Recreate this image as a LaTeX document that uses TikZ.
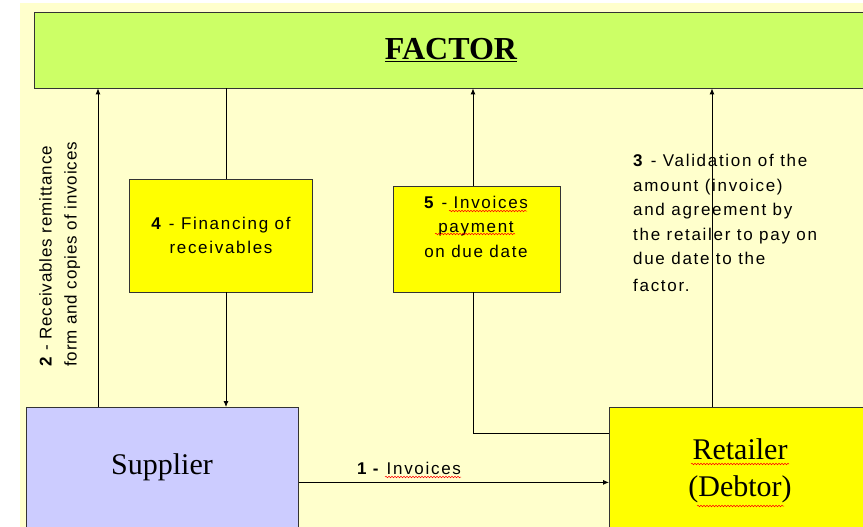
\documentclass[tikz,border=0pt]{standalone}
\usepackage{fontspec}
\setmainfont{Liberation Serif}
\newfontfamily\lab[LetterSpace=10]{Liberation Sans}
\newfontfamily\labnarrow[LetterSpace=5]{Liberation Sans}
\usetikzlibrary{arrows.meta,decorations.pathmorphing}
\definecolor{bgyellow}{RGB}{255,255,204}
\definecolor{factorgreen}{RGB}{204,255,102}
\definecolor{supblue}{RGB}{204,204,255}
\definecolor{boxyellow}{RGB}{255,255,0}
\definecolor{edgegray}{RGB}{51,51,51}
\tikzset{
 box/.style={draw=edgegray, line width=0.8pt, inner sep=0pt},
 lbl/.style={font=\lab\fontsize{17}{24.5}\selectfont, inner sep=0pt, text=black},
 serif/.style={font=\fontsize{30}{37}\selectfont, inner sep=0pt, text=black},
 conn/.style={draw=black, line width=0.8pt},
 arr/.style={conn, -{Latex[length=6pt,width=5pt]}},
 squig/.style={draw=red, line width=0.5pt, decorate, decoration={snake, amplitude=0.8pt, segment length=3pt}},
}
\begin{document}
\begin{tikzpicture}[x=1pt,y=-1pt]
\clip (0,0) rectangle (863,527);
\fill[white] (0,0) rectangle (863,527);
\fill[bgyellow] (20,3) rectangle (863,527);
% boxes
\node[box, fill=factorgreen, minimum width=836pt, minimum height=76pt] (factor) at (452,50) {};
\node[serif, font=\bfseries\fontsize{32}{37}\selectfont] (factortext) at (451,50) {\underline{FACTOR}};
\node[box, fill=supblue, minimum width=272pt, minimum height=140pt, anchor=north west] (supplier) at (26,407) {};
\node[serif] (suptext) at (162,467) {Supplier};
\node[box, fill=boxyellow, minimum width=270pt, minimum height=140pt, anchor=north west] (retailer) at (609,407) {};
\node[serif, align=center] (rettext) at (740,471) {Retailer\\(Debtor)};
\node[box, fill=boxyellow, minimum width=183pt, minimum height=113pt, lbl, align=center] (fin) at (221,235.5) {\textbf{4} - Financing of\\receivables};
\node[box, fill=boxyellow, minimum width=167pt, minimum height=106pt] (pay) at (476.5,239) {};
\node[lbl, align=center] (paytext) at (476,226.5) {\textbf{5} - Invoices\\payment\\ on due date};
% labels
\node[lbl, anchor=north west, align=left] (l3) at (633,154) {\textbf{3} - Validation of the\\amount (invoice)\\and agreement by\\the retailer to pay on\\due date to the\\[2.5pt]factor.};
\node[lbl] (l1) at (409,468) {\textbf{1 -} Invoices};
\node[lbl, font=\labnarrow\fontsize{17}{25}\selectfont, rotate=90, anchor=north west, align=left] (l2) at (39,367) {\textbf{2} - Receivables remittance\\form and copies of invoices};
% spell-check squiggles
\draw[squig] (449,211) -- (527,211);
\draw[squig] (435,234) -- (515,234);
\draw[squig] (385,477) -- (461,477);
\draw[squig] (691,464) -- (789,464);
\draw[squig] (697,506) -- (784,506);
% connectors
\draw[arr] ([xshift=72pt]supplier.north west) -- ([xshift=72pt]supplier.north west |- factor.south);
\draw[conn] ([xshift=5pt]fin.north) -- ([xshift=5pt]fin.north |- factor.south);
\draw[arr] ([xshift=5pt]fin.south) -- ([xshift=5pt]fin.south |- supplier.north);
\draw[conn] ([yshift=-26pt]retailer.north west) -| ([xshift=-3.5pt]pay.south);
\draw[arr] ([xshift=-3.5pt]pay.north) -- ([xshift=-3.5pt]pay.north |- factor.south);
\draw[arr] ([xshift=103pt]retailer.north west) -- ([xshift=103pt]retailer.north west |- factor.south);
\draw[arr] ([yshift=-5pt]supplier.east) -- ([yshift=-5pt]supplier.east -| retailer.west);
\end{tikzpicture}
\end{document}
